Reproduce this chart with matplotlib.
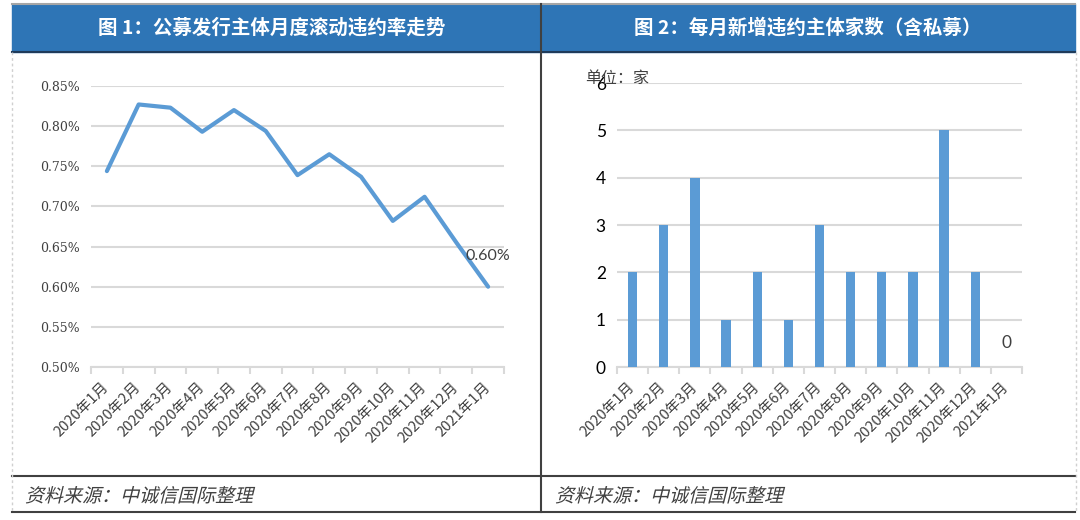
import numpy as np
import matplotlib.pyplot as plt
from matplotlib.patches import Rectangle, PathPatch
from matplotlib.lines import Line2D
from matplotlib.textpath import TextPath
from matplotlib.font_manager import FontProperties
from matplotlib.transforms import Affine2D

# --- Data ---
months = ["2020年1月", "2020年2月", "2020年3月", "2020年4月", "2020年5月", "2020年6月",
          "2020年7月", "2020年8月", "2020年9月", "2020年10月", "2020年11月", "2020年12月",
          "2021年1月"]
default_rate = [0.744, 0.827, 0.823, 0.793, 0.820, 0.794, 0.739, 0.765, 0.737,
                0.682, 0.712, 0.655, 0.600]  # %
new_defaults = [2, 3, 4, 1, 2, 1, 3, 2, 2, 2, 5, 2, 0]
rate_ticks = [0.50, 0.55, 0.60, 0.65, 0.70, 0.75, 0.80, 0.85]
count_ticks = [0, 1, 2, 3, 4, 5, 6]

title1 = "图 1：公募发行主体月度滚动违约率走势"
title2 = "图 2：每月新增违约主体家数（含私募）"
source = "资料来源：中诚信国际整理"
unit = "单位：家"

W, H = 1080, 520
BLUE = "#5B9BD5"
HEAD = "#2E75B6"
GRID = "#D9D9D9"
TXT = "#404040"
CJK = ["Noto Sans CJK SC", "DejaVu Sans"]

plt.rcParams['font.family'] = CJK


def fx(x):
    return x / W


def fy(y):
    return 1 - y / H


fig = plt.figure(figsize=(W / 100, H / 100), dpi=100)

# --- Frame: header bar, borders ---
fig.add_artist(Rectangle((fx(12), fy(52)), fx(1075 - 12), (52 - 4) / H,
                         transform=fig.transFigure, color=HEAD, zorder=0))
fig.add_artist(Line2D([fx(12), fx(1075)], [fy(4), fy(4)], color="#A6A6A6", lw=1.5))
fig.add_artist(Line2D([fx(12), fx(1075)], [fy(52), fy(52)], color="#1F3B5A", lw=1.5))
fig.add_artist(Line2D([fx(541), fx(541)], [fy(4), fy(512)], color="#404040", lw=1.5))
for yy in (476, 512):
    fig.add_artist(Line2D([fx(12), fx(1075)], [fy(yy), fy(yy)], color="#404040", lw=1.5))
for xx in (12, 1076):
    fig.add_artist(Line2D([fx(xx), fx(xx)], [fy(52), fy(512)], color="#D0D0D0",
                          lw=1.0, ls=(0, (2, 2))))

fig.text(fx(272), fy(28), title1, color="white", fontsize=14, fontweight="bold",
         ha="center", va="center")
fig.text(fx(808), fy(28), title2, color="white", fontsize=14, fontweight="bold",
         ha="center", va="center")


# italic-looking source note (the CJK font has no italic, so skew the glyph path)
def slanted_text(s, x_px, base_px, size_px):
    tp = TextPath((0, 0), s, size=size_px, prop=FontProperties(family="Noto Sans CJK SC"))
    tr = Affine2D().skew_deg(14, 0).translate(x_px, H - base_px)
    fig.add_artist(PathPatch(tp, transform=tr, facecolor=TXT, lw=0))


slanted_text(source, 25, 502, 19)
slanted_text(source, 555, 502, 19)

x = np.arange(len(months))

# --- Chart 1: line ---
ax1 = fig.add_axes([fx(91), fy(367), fx(504 - 91), (367 - 86) / H])
ax1.plot(x, default_rate, color=BLUE, lw=3.0, solid_joinstyle="round", solid_capstyle="round")
ax1.set_ylim(0.50, 0.85)
ax1.set_xlim(-0.5, len(months) - 0.5)
ax1.set_yticks(rate_ticks)
ax1.set_yticklabels([f"{v:.2f}%" for v in rate_ticks], fontfamily="DejaVu Serif",
                    fontsize=9, color=TXT)
ax1.annotate(f"{default_rate[-1]:.2f}%", xy=(x[-1], default_rate[-1]), xytext=(0, 22),
             textcoords="offset points", ha="center", va="center", fontsize=11.5,
             color=TXT, fontfamily="Lato")

# --- Chart 2: bars ---
ax2 = fig.add_axes([fx(617), fy(367), fx(1022 - 617), (367 - 83) / H])
ax2.bar(x, new_defaults, width=0.3, color=BLUE, zorder=3)
ax2.set_ylim(0, 6)
ax2.set_xlim(-0.5, len(months) - 0.5)
ax2.set_yticks(count_ticks)
ax2.set_yticklabels([str(v) for v in count_ticks], fontfamily="Lato", fontsize=12.5, color="black")
ax2.annotate(str(new_defaults[-1]), xy=(x[-1], new_defaults[-1]), xytext=(0, 17),
             textcoords="offset points", ha="center", va="center", fontsize=12.5,
             color=TXT, fontfamily="Lato")
# unit note sits over the top tick label, as in the source chart
fig.text(fx(585), fy(78), unit, fontsize=11.5, color=TXT, ha="left", va="center")

for ax in (ax1, ax2):
    ax.grid(axis="y", color=GRID, lw=1.5, zorder=0)
    ax.set_axisbelow(True)
    for side in ("left", "right", "top"):
        ax.spines[side].set_visible(False)
    ax.spines["bottom"].set_color(GRID)
    ax.spines["bottom"].set_linewidth(1.5)
    ax.tick_params(axis="y", length=0, pad=8)
    ax.set_xticks(x)
    ax.set_xticklabels(months, rotation=45, ha="right", va="center",
                       rotation_mode="anchor", fontsize=10.5, color=TXT)
    ax.tick_params(axis="x", which="major", length=0, pad=13)
    ax.set_xticks(np.arange(-0.5, len(months)), minor=True)
    ax.tick_params(axis="x", which="minor", length=5, width=1.5, color=GRID)

fig.savefig("out.png", dpi=100)
